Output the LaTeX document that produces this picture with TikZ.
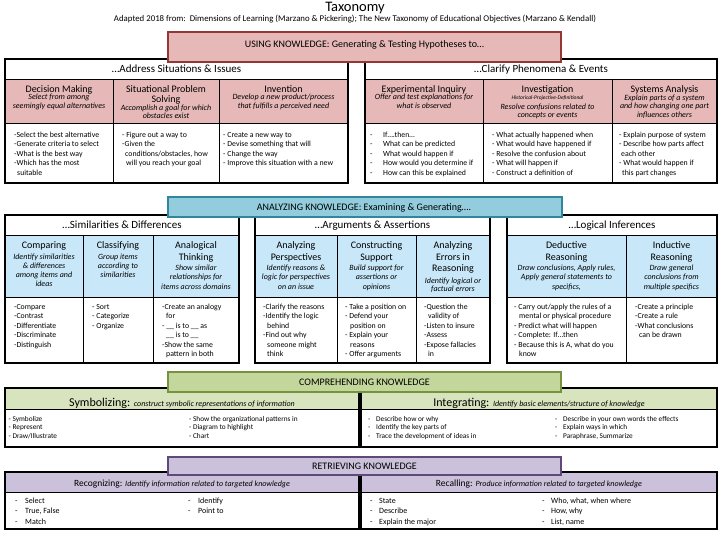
\documentclass[tikz,border=0pt]{standalone}
\usepackage{fontspec}
\setmainfont{Carlito}
\definecolor{usefill}{RGB}{230,185,184}
\definecolor{useline}{RGB}{149,55,53}
\definecolor{anafill}{RGB}{147,205,221}
\definecolor{analine}{RGB}{49,133,156}
\definecolor{anacell}{RGB}{200,231,248}
\definecolor{comfill}{RGB}{195,214,155}
\definecolor{comline}{RGB}{118,146,60}
\definecolor{comcell}{RGB}{215,228,189}
\definecolor{retfill}{RGB}{204,193,218}
\definecolor{retline}{RGB}{95,73,122}
\newcommand{\tabdash}[1][13pt]{\makebox[#1][l]{-}}

\begin{document}
\begin{tikzpicture}[x=1pt, y=-1pt,
    outer/.style={line width=1.5pt},
    inner/.style={line width=0.7pt},
    banner/.style={line width=2.2pt},
    bnrtext/.style={font=\fontsize{10}{10}\selectfont},
    hdr/.style={font=\fontsize{11}{12}\selectfont, anchor=base},
    ttl/.style={font=\fontsize{10}{11}\selectfont, anchor=base},
    dsc/.style={font=\fontsize{8}{8}\selectfont\itshape, anchor=base},
    lst/.style={font=\fontsize{7.8}{8}\selectfont, anchor=base west, inner sep=0pt}]

    % Page
    \fill[white] (0,0) rectangle (720,540);
    \useasboundingbox (0,0) rectangle (720,540);

    % Title
    \node[font=\fontsize{14.5}{16}\selectfont, anchor=base, inner sep=0pt] (title) at (355,11.5) {Taxonomy};
    \node[font=\fontsize{8.8}{9}\selectfont, anchor=base, inner sep=0pt] (source) at (355,22) {Adapted 2018 from:\ \ Dimensions of Learning (Marzano \& Pickering); The New Taxonomy of Educational Objectives (Marzano \& Kendall)};

    % ---------- Using knowledge ----------
    \fill[usefill] (5,79) rectangle (348,123);
    \fill[usefill] (365,79) rectangle (717,123);
    \draw[inner] (5,79) -- (348,79) (5,123) -- (348,123);
    \draw[inner] (365,79) -- (717,79) (365,123) -- (717,123);
    \foreach \x in {113,219,483,612}
        \draw[inner] (\x,79) -- (\x,183);
    \draw[outer] (5,59) rectangle (348,183);
    \draw[outer] (365,59) rectangle (717,183);

    \filldraw[banner, draw=useline, fill=usefill] (168,32) rectangle (561,62);
    \node[bnrtext] (using) at (364.5,44.5) {USING KNOWLEDGE: Generating \& Testing Hypotheses to…};

    \node[hdr] (address) at (176.5,73) {…Address Situations \& Issues};
    \node[hdr] (clarify) at (541,73) {…Clarify Phenomena \& Events};

    % Decision Making
    \node[ttl] (dm) at (59,92.5) {Decision Making};
    \foreach \t [count=\i] in {Select from among, seemingly equal alternatives}
        \node[dsc] (dm-d\i) at (59,91+9*\i) {\t};
    \foreach \t [count=\i] in {-Select the best alternative, -Generate criteria to select, -What is the best way, -Which has the most, \hspace*{3pt}suitable}
        \node[lst] (dm-b\i) at (14,127.8+9.5*\i) {\t};

    % Situational Problem Solving
    \node[ttl] (sps) at (166,92.5) {Situational Problem};
    \node[ttl] (sps2) at (166,103) {Solving};
    \foreach \t [count=\i] in {Accomplish a goal for which, obstacles exist}
        \node[dsc] (sps-d\i) at (166,102.5+8*\i) {\t};
    \foreach \t [count=\i] in {- Figure out a way to, -Given the, {\hspace*{3pt}conditions/obstacles, how}, \hspace*{4pt}will you reach your goal}
        \node[lst] (sps-b\i) at (122,127.8+9.5*\i) {\t};

    % Invention
    \node[ttl] (inv) at (283.5,92.5) {Invention};
    \foreach \t [count=\i] in {Develop a new product/process, that fulfills a perceived need}
        \node[dsc] (inv-d\i) at (283.5,91+9*\i) {\t};
    \foreach \t [count=\i] in {- Create a new way to, - Devise something that will, - Change the way, - Improve this situation with a new}
        \node[lst] (inv-b\i) at (223,127.8+9.5*\i) {\t};

    % Experimental Inquiry
    \node[ttl] (ei) at (424,92.5) {Experimental Inquiry};
    \foreach \t [count=\i] in {Offer and test explanations for, what is observed}
        \node[dsc] (ei-d\i) at (424,91+9*\i) {\t};
    \foreach \t [count=\i] in {If….then…, What can be predicted, What would happen if, How would you determine if, How can this be explained}
        \node[lst] (ei-b\i) at (370,127.8+9.5*\i) {\tabdash\t};

    % Investigation
    \node[ttl] (ig) at (547.5,92.5) {Investigation};
    \node[dsc, font=\fontsize{5.5}{6}\selectfont\itshape] (ig-d0) at (547.5,99.5) {Historical-Projective-Definitional};
    \foreach \t [count=\i] in {Resolve confusions related to, concepts or events}
        \node[dsc] (ig-d\i) at (547.5,100.6+8.5*\i) {\t};
    \foreach \t [count=\i] in {- What actually happened when, - What would have happened if, - Resolve the confusion about, - What will happen if, - Construct a definition of}
        \node[lst] (ig-b\i) at (492,127.8+9.5*\i) {\t};

    % Systems Analysis
    \node[ttl] (sa) at (664.5,92.5) {Systems Analysis};
    \foreach \t [count=\i] in {Explain parts of a system, and how changing one part, influences others}
        \node[dsc] (sa-d\i) at (664.5,91.5+8.6*\i) {\t};
    \foreach \t [count=\i] in {- Explain purpose of system, - Describe how parts affect, \hspace*{2pt}each other, - What would happen if, \hspace*{3pt}this part changes}
        \node[lst] (sa-b\i) at (619,127.8+9.5*\i) {\t};

    % ---------- Analyzing knowledge ----------
    \fill[anacell] (5,235) rectangle (239,297);
    \fill[anacell] (255,235) rectangle (490,297);
    \fill[anacell] (507,235) rectangle (717,297);
    \draw[inner] (5,235) -- (239,235) (5,297) -- (239,297);
    \draw[inner] (255,235) -- (490,235) (255,297) -- (490,297);
    \draw[inner] (507,235) -- (717,235) (507,297) -- (717,297);
    \foreach \x in {83,153,337,416,626}
        \draw[inner] (\x,235) -- (\x,363);
    \draw[outer] (5,215) rectangle (239,363);
    \draw[outer] (255,215) rectangle (490,363);
    \draw[outer] (507,215) rectangle (717,363);

    \filldraw[banner, draw=analine, fill=anafill] (168,197) rectangle (562,217);
    \node[bnrtext] (analyzing) at (364,207.5) {ANALYZING KNOWLEDGE: Examining \& Generating….};

    \node[hdr] (similar) at (122,228.5) {…Similarities \& Differences};
    \node[hdr] (argue) at (372.5,228.5) {…Arguments \& Assertions};
    \node[hdr] (logic) at (612,228.5) {…Logical Inferences};

    % Comparing
    \node[ttl] (cmp) at (44,248.3) {Comparing};
    \foreach \t [count=\i] in {Identify similarities, \& differences, among items and, ideas}
        \node[dsc] (cmp-d\i) at (44,250.3+9*\i) {\t};
    \foreach \t [count=\i] in {-Compare, -Contrast, -Differentiate, -Discriminate, -Distinguish}
        \node[lst] (cmp-b\i) at (14,299.5+9.5*\i) {\t};

    % Classifying
    \node[ttl] (cls) at (118,248.3) {Classifying};
    \foreach \t [count=\i] in {Group items, according to, similarities}
        \node[dsc] (cls-d\i) at (118,250.3+9*\i) {\t};
    \foreach \t [count=\i] in {- Sort, - Categorize, - Organize}
        \node[lst] (cls-b\i) at (92,299.5+9.5*\i) {\t};

    % Analogical Thinking
    \node[ttl] (ana) at (196,248.3) {Analogical};
    \node[ttl] (ana2) at (196,260) {Thinking};
    \foreach \t [count=\i] in {Show similar, relationships for, items across domains}
        \node[dsc] (ana-d\i) at (196,261.2+9.3*\i) {\t};
    \foreach \t [count=\i] in {-Create an analogy, \hspace*{4pt}for, - \_\_ is to \_\_ as, \hspace*{4pt}\_\_ is to \_\_, -Show the same, \hspace*{4pt}pattern in both}
        \node[lst] (ana-b\i) at (162,299.5+9.5*\i) {\t};

    % Analyzing Perspectives
    \node[ttl] (per) at (296,248.3) {Analyzing};
    \node[ttl] (per2) at (296,260) {Perspectives};
    \foreach \t [count=\i] in {Identify reasons \&, logic for perspectives, on an issue}
        \node[dsc] (per-d\i) at (296,261.2+9.3*\i) {\t};
    \foreach \t [count=\i] in {-Clarify the reasons, -Identify the logic, \hspace*{4pt}behind, -Find out why, \hspace*{4pt}someone might, \hspace*{4pt}think}
        \node[lst] (per-b\i) at (263,299.5+9.5*\i) {\t};

    % Constructing Support
    \node[ttl] (sup) at (376.5,248.3) {Constructing};
    \node[ttl] (sup2) at (376.5,260) {Support};
    \foreach \t [count=\i] in {Build support for, assertions or, opinions}
        \node[dsc] (sup-d\i) at (376.5,261.2+9.3*\i) {\t};
    \foreach \t [count=\i] in {- Take a position on, - Defend your, \hspace*{5pt}position on, - Explain your, \hspace*{5pt}reasons, - Offer arguments}
        \node[lst] (sup-b\i) at (345,299.5+9.5*\i) {\t};

    % Analyzing Errors in Reasoning
    \node[ttl] (err) at (453,248.3) {Analyzing};
    \node[ttl] (err2) at (453,260) {Errors in};
    \node[ttl] (err3) at (453,271.7) {Reasoning};
    \foreach \t [count=\i] in {Identify logical or, factual errors}
        \node[dsc] (err-d\i) at (453,274.4+8.6*\i) {\t};
    \foreach \t [count=\i] in {-Question the, \hspace*{4pt}validity of, -Listen to insure, -Assess, -Expose fallacies, \hspace*{4pt}in}
        \node[lst] (err-b\i) at (424,299.5+9.5*\i) {\t};

    % Deductive Reasoning
    \node[ttl] (ded) at (566.5,248.3) {Deductive};
    \node[ttl] (ded2) at (566.5,260) {Reasoning};
    \foreach \t [count=\i] in {{Draw conclusions, Apply rules,}, Apply general statements to, {specifics,}}
        \node[dsc] (ded-d\i) at (566.5,261.2+9.3*\i) {\t};
    \foreach \t [count=\i] in {- Carry out/apply the rules of a, \hspace*{5pt}mental or physical procedure, - Predict what will happen, - Complete: If…then, {- Because this is A, what do you}, \hspace*{5pt}know}
        \node[lst] (ded-b\i) at (514,299.5+9.5*\i) {\t};

    % Inductive Reasoning
    \node[ttl] (ind) at (671.5,248.3) {Inductive};
    \node[ttl] (ind2) at (671.5,260) {Reasoning};
    \foreach \t [count=\i] in {Draw general, conclusions from, multiple specifics}
        \node[dsc] (ind-d\i) at (671.5,261.2+9.3*\i) {\t};
    \foreach \t [count=\i] in {-Create a principle, -Create a rule, -What conclusions, \hspace*{4pt}can be drawn}
        \node[lst] (ind-b\i) at (635,299.5+9.5*\i) {\t};

    % ---------- Comprehending knowledge ----------
    \fill[comcell] (5,388) rectangle (359,409);
    \fill[comcell] (361,388) rectangle (717,409);
    \draw[inner] (5,409) -- (359,409) (361,409) -- (717,409);
    \draw[outer] (5,388) rectangle (359,447);
    \draw[outer] (361,388) rectangle (717,447);

    \filldraw[banner, draw=comline, fill=comfill] (168,372) rectangle (561,392);
    \node[bnrtext] (comprehending) at (364.5,382.5) {COMPREHENDING KNOWLEDGE};

    \node[anchor=base] (sym) at (182,406) {\fontsize{12}{12}\selectfont Symbolizing: {\fontsize{8}{8}\selectfont\itshape construct symbolic representations of information}};
    \node[anchor=base] (int) at (539,406) {\fontsize{12}{12}\selectfont Integrating: {\fontsize{8}{8}\selectfont\itshape Identify basic elements/structure of knowledge}};

    \foreach \t [count=\i] in {- Symbolize, - Represent, - Draw/Illustrate}
        \node[lst, font=\fontsize{7.3}{8}\selectfont] (sym-a\i) at (8.5,412.8+8.5*\i) {\t};
    \foreach \t [count=\i] in {- Show the organizational patterns in, - Diagram to highlight, - Chart}
        \node[lst, font=\fontsize{7.3}{8}\selectfont] (sym-b\i) at (189,412.8+8.5*\i) {\t};
    \foreach \t [count=\i] in {Describe how or why, Identify the key parts of, Trace the development of ideas in}
        \node[lst, font=\fontsize{7.3}{8}\selectfont] (int-a\i) at (368,412.8+8.5*\i) {\tabdash[8pt]\t};
    \foreach \t [count=\i] in {Describe in your own words the effects, Explain ways in which, {Paraphrase, Summarize}}
        \node[lst, font=\fontsize{7.3}{8}\selectfont] (int-b\i) at (555,412.8+8.5*\i) {\tabdash[8pt]\t};

    % ---------- Retrieving knowledge ----------
    \fill[retfill] (5,472) rectangle (359,492);
    \fill[retfill] (361,472) rectangle (717,492);
    \draw[inner] (5,492) -- (359,492) (361,492) -- (717,492);
    \draw[outer] (5,472) rectangle (359,529);
    \draw[outer] (361,472) rectangle (717,529);

    \filldraw[banner, draw=retline, fill=retfill] (168,457) rectangle (561,475);
    \node[bnrtext] (retrieving) at (364.5,466) {RETRIEVING KNOWLEDGE};

    \node[anchor=base] (rec) at (182,486) {\fontsize{9.5}{10}\selectfont Recognizing: {\fontsize{8}{8}\selectfont\itshape Identify information related to targeted knowledge}};
    \node[anchor=base] (rcl) at (539,486) {\fontsize{9.5}{10}\selectfont Recalling: {\fontsize{8}{8}\selectfont\itshape Produce information related to targeted knowledge}};

    \foreach \t [count=\i] in {Select, {True, False}, Match}
        \node[lst, font=\fontsize{8}{8}\selectfont] (rec-a\i) at (15,492.6+10.5*\i) {\tabdash[10pt]\t};
    \foreach \t [count=\i] in {Identify, Point to}
        \node[lst, font=\fontsize{8}{8}\selectfont] (rec-b\i) at (188,492.6+10.5*\i) {\tabdash[10pt]\t};
    \foreach \t [count=\i] in {State, Describe, Explain the major}
        \node[lst, font=\fontsize{8}{8}\selectfont] (rcl-a\i) at (370,492.6+10.5*\i) {\tabdash[9pt]\t};
    \foreach \t [count=\i] in {{Who, what, when where}, {How, why}, {List, name}}
        \node[lst, font=\fontsize{8}{8}\selectfont] (rcl-b\i) at (542,492.6+10.5*\i) {\tabdash[9pt]\t};

\end{tikzpicture}
\end{document}
